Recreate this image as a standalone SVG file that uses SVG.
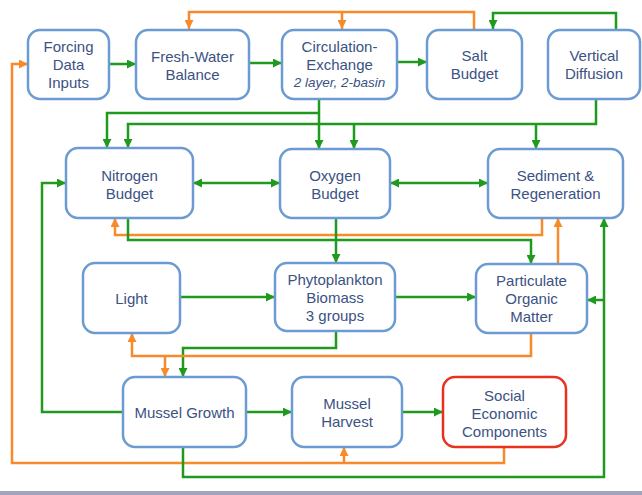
<svg xmlns="http://www.w3.org/2000/svg" width="642" height="495" viewBox="0 0 642 495">
<defs>
<style>
.box rect{fill:#fff;stroke:#6b9bd2;stroke-width:2.5}
.box.red rect{stroke:#e8321e}
.box text{font-family:"Liberation Sans",Arial,sans-serif;font-size:15px;fill:#3b5283;text-anchor:middle}
.box text.it{font-style:italic;font-size:13.5px}
.g{fill:none;stroke:#1f9a1f;stroke-width:2.5;marker-end:url(#ag)}
.gn{fill:none;stroke:#1f9a1f;stroke-width:2.5}
.o{fill:none;stroke:#f78a2a;stroke-width:2.5;marker-end:url(#ao)}
.bi{marker-start:url(#ag)}
</style>
<marker id="ag" viewBox="0 0 10 10" refX="10" refY="5" markerWidth="9" markerHeight="9" markerUnits="userSpaceOnUse" orient="auto-start-reverse"><path d="M0,0 L10,5 L0,10 z" fill="#1f9a1f"/></marker>
<marker id="ao" viewBox="0 0 10 10" refX="10" refY="5" markerWidth="9" markerHeight="9" markerUnits="userSpaceOnUse" orient="auto-start-reverse"><path d="M0,0 L10,5 L0,10 z" fill="#f78a2a"/></marker>
</defs>
<rect x="0" y="0" width="642" height="495" fill="#fff"/>
<rect x="0" y="491" width="642" height="4" fill="#a3a3bd"/>
<g id="connectors">
<path class="g" d="M108,64 H136"/>
<path class="g" d="M249,63 H282"/>
<path class="g" d="M397,62 H427"/>
<path class="o" d="M474,29 V12 H189 V29"/>
<path class="o" d="M342,12 V29"/>
<path class="g" d="M616,29 V13 H493 V29"/>
<path class="o" d="M504,447 V463 H12 V64 H28"/>
<path class="o" d="M344,463 V447"/>
<path class="g" d="M183,447 V477 H604 V218"/>
<path class="g" d="M604,300 H587"/>
<path class="g" d="M123,412 H42 V183 H66"/>
<path class="g" d="M319,99 V149"/>
<path class="g" d="M319,113 H107 V148"/>
<path class="g" d="M596,99 V124 H128 V148"/>
<path class="g" d="M354,124 V149"/>
<path class="g" d="M536,124 V149"/>
<path class="g bi" d="M193,183 H280"/>
<path class="g bi" d="M390,183 H488"/>
<path class="o" d="M542,218 V235 H115 V218"/>
<path class="g" d="M128,218 V240 H531 V264"/>
<path class="g" d="M336,218 V263"/>
<path class="o" d="M558,264 V218"/>
<path class="g" d="M180,297 H275"/>
<path class="g" d="M395,297 H476"/>
<path class="g" d="M336,331 V348 H183 V377"/>
<path class="o" d="M531,333 V356 H132 V333"/>
<path class="o" d="M165,356 V377"/>
<path class="g" d="M246,412 H292"/>
<path class="g" d="M402,412 H443"/>
</g>
<g id="forcing" class="box"><rect x="28" y="30" width="81" height="69" rx="12"/><text x="68.5" y="52">Forcing</text><text x="68.5" y="70">Data</text><text x="68.5" y="88">Inputs</text></g>
<g id="freshwater" class="box"><rect x="136" y="30" width="113" height="69" rx="12"/><text x="192.5" y="62">Fresh-Water</text><text x="192.5" y="80">Balance</text></g>
<g id="circulation" class="box"><rect x="282" y="30" width="115" height="69" rx="12"/><text x="339.5" y="52">Circulation-</text><text x="339.5" y="70">Exchange</text><text class="it" x="339.5" y="87">2 layer, 2-basin</text></g>
<g id="salt" class="box"><rect x="427" y="30" width="95" height="69" rx="12"/><text x="474.5" y="61">Salt</text><text x="474.5" y="79">Budget</text></g>
<g id="vertical" class="box"><rect x="548" y="30" width="92" height="69" rx="12"/><text x="594" y="61">Vertical</text><text x="594" y="79">Diffusion</text></g>
<g id="nitrogen" class="box"><rect x="66" y="148" width="127" height="70" rx="12"/><text x="129.5" y="181">Nitrogen</text><text x="129.5" y="199">Budget</text></g>
<g id="oxygen" class="box"><rect x="280" y="149" width="110" height="69" rx="12"/><text x="335" y="181">Oxygen</text><text x="335" y="199">Budget</text></g>
<g id="sediment" class="box"><rect x="488" y="149" width="135" height="69" rx="12"/><text x="555.5" y="181">Sediment &amp;</text><text x="555.5" y="199">Regeneration</text></g>
<g id="light" class="box"><rect x="83" y="263" width="97" height="70" rx="12"/><text x="131.5" y="304">Light</text></g>
<g id="phyto" class="box"><rect x="275" y="263" width="120" height="68" rx="12"/><text x="335" y="285">Phytoplankton</text><text x="335" y="303">Biomass</text><text x="335" y="321">3 groups</text></g>
<g id="pom" class="box"><rect x="476" y="264" width="111" height="69" rx="12"/><text x="531.5" y="286">Particulate</text><text x="531.5" y="304">Organic</text><text x="531.5" y="322">Matter</text></g>
<g id="musselgrowth" class="box"><rect x="123" y="377" width="123" height="70" rx="12"/><text x="184.5" y="418">Mussel Growth</text></g>
<g id="musselharvest" class="box"><rect x="292" y="377" width="110" height="70" rx="12"/><text x="347" y="409">Mussel</text><text x="347" y="427">Harvest</text></g>
<g id="social" class="box red"><rect x="443" y="377" width="123" height="70" rx="12"/><text x="504.5" y="401">Social</text><text x="504.5" y="419">Economic</text><text x="504.5" y="437">Components</text></g>
</svg>
